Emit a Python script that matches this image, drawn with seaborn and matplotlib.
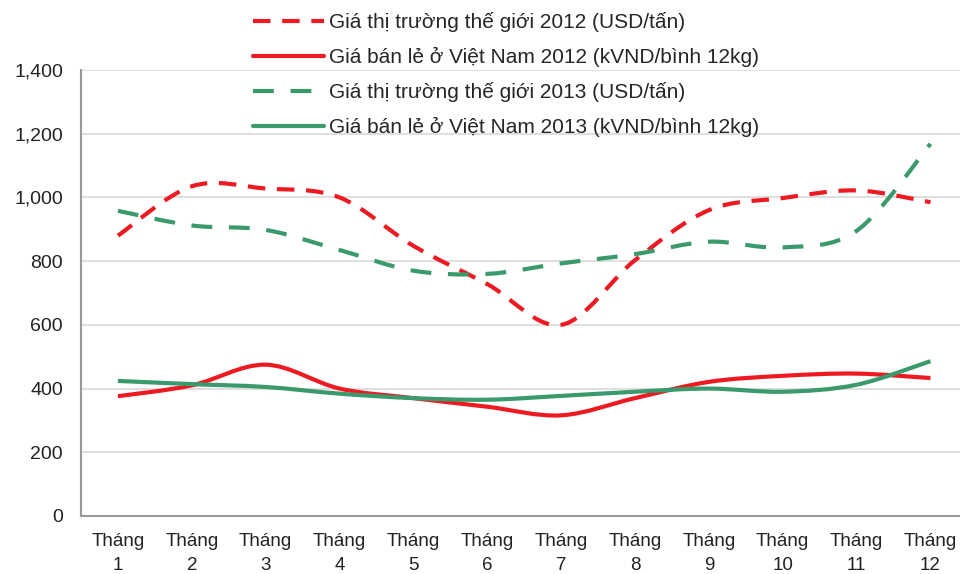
import numpy as np
import pandas as pd
import matplotlib
matplotlib.use("Agg")
import matplotlib.pyplot as plt
from matplotlib.path import Path
from matplotlib.patches import PathPatch
from matplotlib.lines import Line2D
import seaborn as sns

months = [f"Tháng\n{i}" for i in range(1, 13)]
world_2012 = [880, 1035, 1028, 1000, 848, 728, 600, 803, 960, 998, 1022, 985]
vn_2012 = [376, 410, 475, 400, 370, 343, 316, 370, 421, 440, 447, 433]
world_2013 = [958, 912, 898, 835, 770, 760, 793, 822, 861, 843, 895, 1168]
vn_2013 = [424, 414, 405, 384, 370, 365, 377, 390, 400, 390, 412, 486]

labels = [
    "Giá thị trường thế giới 2012 (USD/tấn)",
    "Giá bán lẻ ở Việt Nam 2012 (kVND/bình 12kg)",
    "Giá thị trường thế giới 2013 (USD/tấn)",
    "Giá bán lẻ ở Việt Nam 2013 (kVND/bình 12kg)",
]
RED = "#ee1a22"
GREEN = "#3a9a6c"

sns.set_theme(style="white")
plt.rcParams["font.family"] = ["Liberation Sans", "DejaVu Sans"]

fig = plt.figure(figsize=(9.6, 5.74), dpi=100)
ax = fig.add_axes([81 / 960, 58 / 574, 879 / 960, 446 / 574])

def smooth_path(xs, ys):
    pts = np.column_stack([xs, ys]).astype(float)
    n = len(pts)
    verts = [pts[0]]
    codes = [Path.MOVETO]
    for i in range(n - 1):
        p0 = pts[i - 1] if i > 0 else pts[i]
        p1 = pts[i]
        p2 = pts[i + 1]
        p3 = pts[i + 2] if i + 2 < n else pts[i + 1]
        c1 = p1 + (p2 - p0) / 6.0
        c2 = p2 - (p3 - p1) / 6.0
        verts += [c1, c2, p2]
        codes += [Path.CURVE4] * 3
    return Path(verts, codes)

x = np.arange(len(months))
series = [
    (world_2012, RED, (0, (4.2, 2.8))),
    (vn_2012, RED, "-"),
    (world_2013, GREEN, (0, (5, 4))),
    (vn_2013, GREEN, "-"),
]
for vals, col, ls in series:
    patch = PathPatch(smooth_path(x, vals), facecolor="none", edgecolor=col,
                      linewidth=3.0, linestyle=ls, capstyle="butt", zorder=3)
    ax.add_patch(patch)

ax.set_xlim(-0.5, 11.4)
ax.set_ylim(0, 1400)
ax.set_yticks(range(0, 1401, 200))
ax.set_yticklabels([f"{v:,}" for v in range(0, 1401, 200)], fontsize=14, color="#222222")
ax.set_xticks(x)
ax.set_xticklabels(months, fontsize=13.5, color="#222222", linespacing=1.6)
ax.tick_params(axis="x", length=0, pad=12)
ax.tick_params(axis="y", length=0, pad=13)
ax.set_xticks([2.5, 5.5, 8.5], minor=True)
ax.tick_params(axis="x", which="minor", length=5, color="#999999", width=1)
ax.yaxis.grid(True, color="#d9d9d9", linewidth=1.2)
ax.set_axisbelow(True)
for side in ["top", "right"]:
    ax.spines[side].set_visible(False)
ax.spines["left"].set_color("#999999")
ax.spines["bottom"].set_color("#999999")
ax.spines["left"].set_linewidth(1.5)
ax.spines["bottom"].set_linewidth(1.5)

handles = [Line2D([], [], color=col, lw=3.0, linestyle=ls) for _, col, ls in series]
fig.legend(handles, labels, loc="upper left", bbox_to_anchor=(245 / 960, 1 - 4 / 574),
           frameon=False, fontsize=15, handlelength=3.4, handletextpad=0.25,
           labelspacing=0.72, borderaxespad=0)

fig.savefig("out.png", dpi=100)
